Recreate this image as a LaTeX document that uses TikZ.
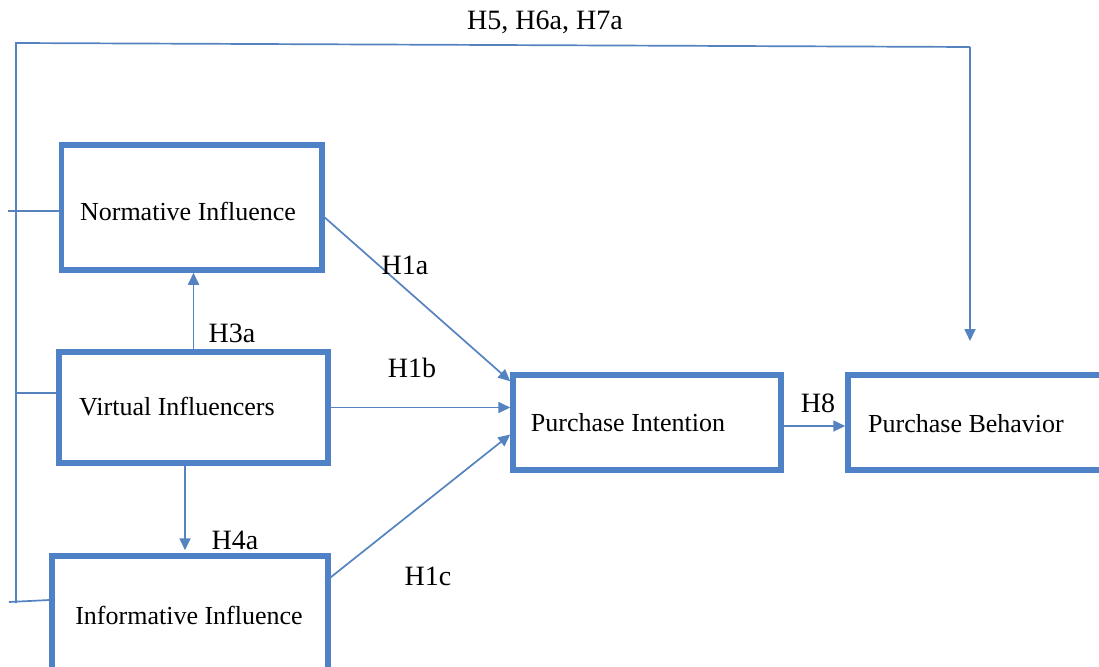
\documentclass[tikz,border=0pt]{standalone}
\usepackage{fontspec}
\setmainfont{Liberation Serif}
\newfontfamily\timesfam{Liberation Serif}
\usetikzlibrary{arrows.meta}
\definecolor{boxblue}{HTML}{4F81C6}
\definecolor{lineblue}{HTML}{5583C0}
\begin{document}
\begin{tikzpicture}[x=1pt,y=-1pt,
  box/.style={draw=boxblue, line width=5.5pt, fill=white, inner sep=0pt, rectangle},
  conn/.style={draw=lineblue, line width=1.7pt},
  arr/.style={conn, -{Triangle[length=12pt,width=11pt]}},
  txt/.style={font=\timesfam\fontsize{26}{30}\selectfont, inner sep=0pt},
  lab/.style={font=\timesfam\fontsize{28}{32}\selectfont, inner sep=0pt}]
\clip (0,0) rectangle (1099,666);
\fill[white] (0,0) rectangle (1099,666);

% boxes
\node[box, minimum width=260.5pt, minimum height=125pt] (nor) at (191.75,207.5) {};
\node[box, minimum width=269pt, minimum height=111pt] (vir) at (193.5,407.5) {};
\node[box, minimum width=276pt, minimum height=144pt] (inf) at (190,628) {};
\node[box, minimum width=268pt, minimum height=95pt] (pi) at (647,422.5) {};
\node[box, minimum width=282pt, minimum height=95pt] (pb) at (989,422.5) {};

% box texts
\node[txt] (nortxt) at (188,211) {Normative Influence};
\node[txt] (virtxt) at (177,407) {Virtual Influencers};
\node[txt] (inftxt) at (189,615) {Informative Influence};
\node[txt] (pitxt) at (628,423) {Purchase Intention};
\node[txt] (pbtxt) at (966,424) {Purchase Behavior};

% left bus and top path
\coordinate (busTop) at (16,43);
\coordinate (busBot) at (16,603);
\coordinate (topR) at (970,47);
\coordinate (pbIn) at (970,341);
\coordinate (s1) at (8,211);
\coordinate (s2) at (16,393);
\coordinate (s3) at (9,602);
\draw[conn] (busBot) -- (busTop) -- (topR);
\draw[arr] (topR) -- (pbIn);
\draw[conn] (s1) -- (s1 -| nor.west);
\draw[conn] (s2) -- (s2 -| vir.west);
\draw[conn] (s3) -- ([yshift=2pt]s3 -| inf.west);

% arrows
\draw[arr] (vir.north) -- (vir.north |- nor.south);
\draw[arr] ([xshift=-8.5pt]vir.south) -- ([xshift=-8.5pt,yshift=3pt]vir.south |- inf.north);
\draw[arr] ([yshift=-10pt]nor.east) -- ([yshift=-9pt]pi.north west);
\draw[arr] (vir.east) -- (vir.east -| pi.west);
\draw[arr] ([yshift=-24pt]inf.north east) -- ([yshift=-12pt]pi.west);
\draw[arr] ([yshift=-3.5pt]pi.east) -- ([yshift=-3.5pt]pb.west);

% labels
\node[lab] (lh5) at (545,22) {H5, H6a, H7a};
\node[lab] (lh1a) at (405,265) {H1a};
\node[lab] (lh3a) at (232,333) {H3a};
\node[lab] (lh1b) at (412,368) {H1b};
\node[lab] (lh8) at (818,403) {H8};
\node[lab] (lh4a) at (235,540) {H4a};
\node[lab] (lh1c) at (428,576) {H1c};
\end{tikzpicture}
\end{document}
